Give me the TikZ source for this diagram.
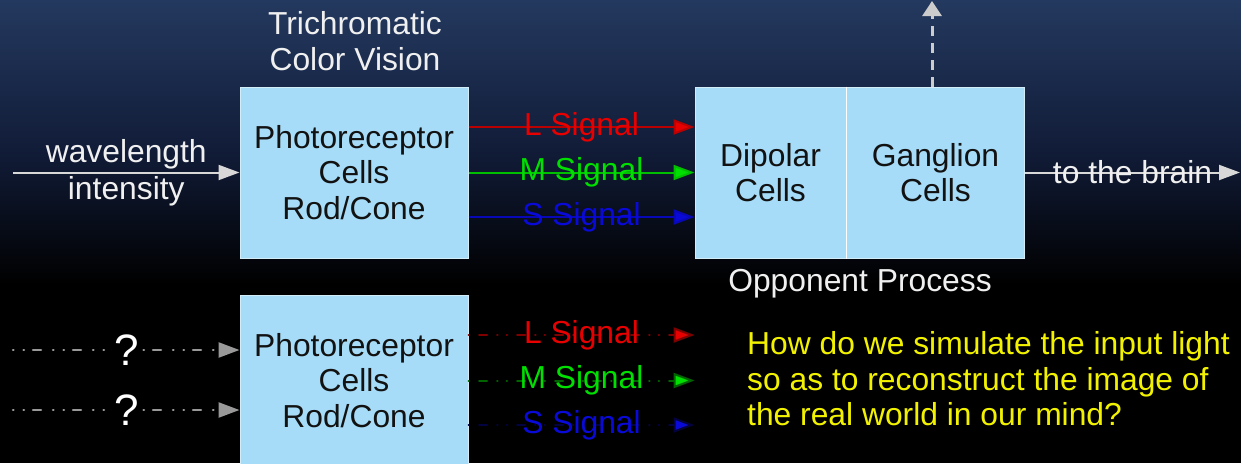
\documentclass[tikz,border=0pt]{standalone}
\usepackage{fontspec}
\setmainfont{Liberation Sans}
\usetikzlibrary{arrows.meta}

\definecolor{bgtop}{HTML}{24395F}
\definecolor{bgmid}{HTML}{111C38}
\definecolor{cellfill}{HTML}{A6DCF8}
\definecolor{celledge}{HTML}{D2ECF8}
\definecolor{celltext}{HTML}{121212}
\definecolor{wirecol}{HTML}{D8D8D8}
\definecolor{sigred}{HTML}{E80000}
\definecolor{siggreen}{HTML}{00E000}
\definecolor{sigblue}{HTML}{0A0AD8}
\definecolor{qyellow}{HTML}{F2F200}
\newcommand{\slidefont}{\fontsize{31.8}{35.5}\selectfont}
\newcommand{\markfont}{\fontsize{44}{44}\selectfont}

\begin{document}
\begin{tikzpicture}[x=1pt,y=-1pt,
  every node/.style={font=\slidefont},
  cell/.style={draw=celledge, line width=1pt, fill=cellfill, text=celltext,
    minimum width=228pt, minimum height=171pt, align=center, inner sep=0pt},
  label/.style={text=white!94!black, align=center, inner sep=1pt},
  bigtip/.style={-{Triangle[length=21pt,width=15pt]}},
  wire/.style={draw=wirecol, line width=2pt, bigtip},
  qwire/.style={draw=white!60!black, line width=2.5pt, line cap=round,
    dash pattern=on 0.5pt off 10pt on 0.5pt off 9pt on 8pt off 12pt, bigtip},
  sig/.style={line width=2pt, bigtip},
  sigfaint/.style={line width=2pt, line cap=round,
    dash pattern=on 0.5pt off 10pt on 8pt off 10pt on 0.5pt off 9pt, bigtip},
]
\useasboundingbox (0,0) rectangle (1241,463);
\clip (0,0) rectangle (1241,463);

% background: navy fading into black
\shade[top color=bgtop, bottom color=bgmid] (0,0) rectangle (1241,150);
\shade[top color=bgmid, bottom color=black] (0,149.5) rectangle (1241,285);
\fill[black] (0,284.5) rectangle (1241,463);

% cell blocks
\node[cell] (p1) at (354,172.5) {Photoreceptor\\Cells\\Rod/Cone};
\node[cell, minimum width=151pt] (dip) at (770.5,172.5) {Dipolar\\Cells};
\node[cell, minimum width=178pt] (gang) at (935.5,172.5) {Ganglion\\Cells};
\draw[white, line width=1.5pt] (dip.north east) -- (dip.south east);
\node[cell] (p2) at (354,380.5) {Photoreceptor\\Cells\\Rod/Cone};

% captions
\node[label] (tri) at (355,41) {Trichromatic\\Color Vision};
\node[label] (opp) at (860,284) {Opponent Process};

% light input
\coordinate (src) at (13,172.5);
\draw[wire] (src) -- node[label, above, inner sep=2pt]{wavelength}
  node[label, below, inner sep=3pt]{intensity} (p1.west);

% cone signals
\draw[sig, draw=sigred!80!black, -{Triangle[length=21pt,width=15pt,fill=sigred]}]
  ([yshift=45.5pt]p1.east) -- node[text=sigred]{L Signal} ([yshift=45.5pt]p1.east -| dip.west);
\draw[sig, draw=siggreen!85!black, -{Triangle[length=21pt,width=15pt,fill=siggreen]}]
  (p1.east) -- node[text=siggreen]{M Signal} (dip.west);
\draw[sig, draw=sigblue!85!black, -{Triangle[length=21pt,width=15pt,fill=sigblue]}]
  ([yshift=-44.5pt]p1.east) -- node[text=sigblue]{S Signal} ([yshift=-44.5pt]p1.east -| dip.west);

% output towards the brain
\coordinate (brain) at (1240,172.5);
\draw[wire] (gang.east) -- node[label]{to the brain} (brain);
\coordinate (up) at (932,1);
\draw[draw=white!80!black, line width=3pt, dash pattern=on 10pt off 7pt,
  -{Triangle[length=15pt,width=19pt]}] (up |- gang.north) -- (up);

% unknown inputs
\coordinate (q1) at (13,350);
\coordinate (q2) at (13,410);
\draw[qwire] (q1) -- node[fill=black, text=white, inner sep=2pt, font=\markfont]{?} (q1 -| p2.west);
\draw[qwire] (q2) -- node[fill=black, text=white, inner sep=2pt, font=\markfont]{?} (q2 -| p2.west);

% simulated cone signals
\draw[sigfaint, draw=sigred!55!black, -{Triangle[length=21pt,width=15pt,fill=sigred]}]
  ([yshift=45.5pt]p2.east) -- node[text=sigred]{L Signal} ([yshift=45.5pt]p2.east -| dip.west);
\draw[sigfaint, draw=siggreen!45!black, -{Triangle[length=21pt,width=15pt,fill=siggreen]}]
  (p2.east) -- node[text=siggreen]{M Signal} (p2.east -| dip.west);
\draw[sigfaint, draw=sigblue!30!black, -{Triangle[length=21pt,width=15pt,fill=sigblue]}]
  ([yshift=-44.5pt]p2.east) -- node[text=sigblue]{S Signal} ([yshift=-44.5pt]p2.east -| dip.west);

% question
\node[text=qyellow, anchor=west, align=left, inner sep=0pt] (ask) at (747,379)
  {How do we simulate the input light\\so as to reconstruct the image of\\the real world in our mind?};
\end{tikzpicture}
\end{document}
